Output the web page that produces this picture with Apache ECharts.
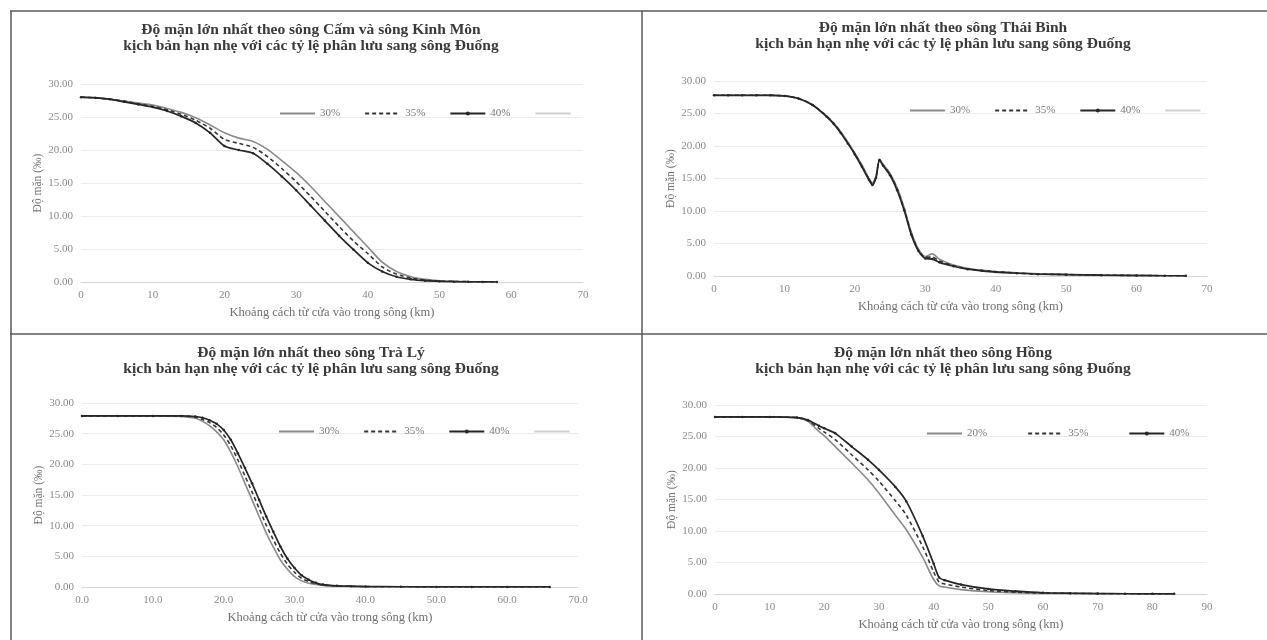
<!DOCTYPE html>
<html>
<head>
<meta charset="utf-8">
<script src="https://cdn.jsdelivr.net/npm/echarts@6/dist/echarts.min.js"></script>
<style>
html,body{margin:0;padding:0;background:#fff;}
#chart{width:1267px;height:640px;}
</style>
</head>
<body>
<div id="chart"></div>
<script>
// Maximum salinity (‰) along each river, light-drought scenario,
// for different shares of flow diverted to the Đuống river.

// --- Sông Cấm và sông Kinh Môn ---
const camDist = [0,2,4,6,8,10,12,14,16,18,20,22,24,26,28,30,32,34,36,38,40,42,44,46,48,50,52,54,56,58];
const cam30 = [28.0,27.9,27.7,27.4,27.1,26.8,26.3,25.7,24.9,23.8,22.6,21.8,21.3,20.1,18.4,16.6,14.5,12.2,9.9,7.6,5.3,3.0,1.6,0.8,0.4,0.2,0.1,0.05,0.02,0.0];
const cam35 = [28.0,27.9,27.7,27.4,27.0,26.6,26.1,25.4,24.5,23.3,21.6,21.0,20.4,19.0,17.2,15.2,13.0,10.7,8.4,6.2,4.3,2.3,1.2,0.6,0.3,0.15,0.1,0.05,0.02,0.0];
const cam40 = [28.0,27.9,27.7,27.3,26.9,26.5,25.9,25.1,24.1,22.6,20.6,20.0,19.5,17.9,16.0,13.9,11.6,9.3,7.0,4.9,2.9,1.6,0.8,0.4,0.2,0.1,0.05,0.02,0.01,0.0];

// --- Sông Thái Bình ---
const tbDist = [0,2,4,6,8,10,12,14,16,17,18,19,20,21,22,22.5,23,23.5,24,25,26,27,28,29,30,31,32,34,36,38,40,43,46,50,55,60,64,67];
const tb30 = [27.8,27.8,27.8,27.8,27.8,27.7,27.3,26.3,24.6,23.5,22.2,20.6,18.9,17.1,15.0,14.3,15.3,18.0,17.2,15.8,13.6,10.5,6.8,4.2,3.0,3.4,2.6,1.7,1.2,0.9,0.7,0.5,0.35,0.25,0.15,0.1,0.05,0.03];
const tb35 = [27.8,27.8,27.8,27.8,27.8,27.7,27.3,26.3,24.6,23.5,22.1,20.5,18.8,16.9,14.9,14.2,15.2,17.9,17.1,15.6,13.4,10.3,6.6,4.0,2.9,2.9,2.3,1.6,1.1,0.85,0.65,0.45,0.3,0.22,0.13,0.08,0.04,0.03];
const tb40 = [27.8,27.8,27.8,27.8,27.8,27.7,27.3,26.3,24.5,23.4,22.0,20.4,18.7,16.8,14.8,14.0,15.1,17.8,17.0,15.5,13.2,10.1,6.4,3.9,2.7,2.6,2.1,1.5,1.05,0.8,0.6,0.42,0.28,0.2,0.12,0.07,0.04,0.03];

// --- Sông Trà Lý ---
const tlDist = [0,5,10,14,16,17,18,19,20,21,22,23,24,25,26,27,28,29,30,31,32,33,34,36,38,40,45,50,55,60,66];
const tl30 = [27.9,27.9,27.9,27.8,27.5,27.0,26.3,25.3,24.0,22.0,19.6,16.9,14.2,11.5,8.8,6.5,4.4,2.9,1.7,1.0,0.6,0.4,0.25,0.15,0.1,0.05,0.03,0.02,0.02,0.02,0.02];
const tl35 = [27.9,27.9,27.9,27.9,27.7,27.3,26.8,26.0,24.8,23.0,20.7,18.1,15.5,12.8,10.1,7.7,5.5,3.7,2.4,1.4,0.9,0.55,0.3,0.17,0.11,0.06,0.035,0.02,0.02,0.02,0.02];
const tl40 = [27.9,27.9,27.9,27.9,27.8,27.6,27.2,26.6,25.6,24.0,21.8,19.4,16.9,14.2,11.5,9.0,6.6,4.6,3.1,1.9,1.2,0.7,0.4,0.2,0.12,0.07,0.04,0.02,0.02,0.02,0.02];

// --- Sông Hồng ---
const hongDist = [0,5,10,15,17,19,20,22,25,28,30,33,35,38,40,41,42,45,50,55,60,65,70,75,80,84];
const hong20 = [28.1,28.1,28.1,28.0,27.4,25.8,25.1,23.4,20.8,18.1,16.0,12.5,10.2,5.8,2.3,1.3,1.1,0.7,0.35,0.2,0.1,0.07,0.05,0.03,0.02,0.02];
const hong35 = [28.1,28.1,28.1,28.0,27.5,26.3,25.7,24.5,22.1,19.7,17.9,14.8,12.5,7.5,3.5,1.9,1.6,1.1,0.55,0.3,0.15,0.1,0.06,0.035,0.02,0.02];
const hong40 = [28.1,28.1,28.1,28.0,27.6,26.7,26.3,25.5,23.4,21.3,19.7,17.0,14.7,9.2,4.8,2.6,2.2,1.5,0.8,0.45,0.2,0.12,0.07,0.04,0.02,0.02];

// Text
const subTitle = 'kịch bản hạn nhẹ với các tỷ lệ phân lưu sang sông Đuống';
const titles = [
  'Độ mặn lớn nhất theo sông Cấm và sông Kinh Môn',
  'Độ mặn lớn nhất theo sông Thái Bình',
  'Độ mặn lớn nhất theo sông Trà Lý',
  'Độ mặn lớn nhất theo sông Hồng'
];
const xName = 'Khoảng cách từ cửa vào trong sông (km)';
const yName = 'Độ mặn (‰)';
const BLANK = ' ';

const SERIF = '"Liberation Serif","DejaVu Serif",serif';

// Line styles per scenario
const styles = {
  '30%': {color: '#8a8a8a', width: 1.6, type: 'solid', symbol: 'none'},
  '20%': {color: '#8a8a8a', width: 1.6, type: 'solid', symbol: 'none'},
  '35%': {color: '#363636', width: 1.6, type: [4, 3], symbol: 'none'},
  '40%': {color: '#262626', width: 1.7, type: 'solid', symbol: 'circle'},
  ' ':   {color: '#d0d0d0', width: 1.2, type: 'solid', symbol: 'none'}
};

const panels = [
  {dist: camDist, lines: [['30%', cam30], ['35%', cam35], ['40%', cam40], [BLANK, []]],
   grid: {left: 81, top: 84, width: 502, height: 198}, xMax: 70, xDec: 0,
   legend: {left: 274, top: 103, gap: 24}, title: {x: 311, y: 22}},
  {dist: tbDist, lines: [['30%', tb30], ['35%', tb35], ['40%', tb40], [BLANK, []]],
   grid: {left: 714, top: 81, width: 493, height: 195}, xMax: 70, xDec: 0,
   legend: {left: 904, top: 100, gap: 24}, title: {x: 943, y: 20}},
  {dist: tlDist, lines: [['30%', tl30], ['35%', tl35], ['40%', tl40], [BLANK, []]],
   grid: {left: 82, top: 403, width: 496, height: 184}, xMax: 70, xDec: 1,
   legend: {left: 273, top: 421, gap: 24}, title: {x: 311, y: 345}},
  {dist: hongDist, lines: [['20%', hong20], ['35%', hong35], ['40%', hong40]],
   grid: {left: 715, top: 405, width: 492, height: 189}, xMax: 90, xDec: 0,
   legend: {left: 921, top: 423, gap: 40}, title: {x: 943, y: 345}}
];

const option = {
  animation: false,
  backgroundColor: '#fff',
  grid: [], xAxis: [], yAxis: [], series: [], legend: [], graphic: []
};

panels.forEach((p, i) => {
  option.grid.push(Object.assign({containLabel: false}, p.grid));
  option.xAxis.push({
    type: 'value', gridIndex: i, min: 0, max: p.xMax, interval: 10,
    name: xName, nameLocation: 'middle', nameGap: 24,
    nameTextStyle: {fontFamily: SERIF, fontSize: 12.5, color: '#6f6f6f'},
    axisLine: {show: true, lineStyle: {color: '#d4d4d4'}},
    axisTick: {show: false},
    axisLabel: {fontFamily: SERIF, fontSize: 11, color: '#8a8a8a', margin: 8,
      formatter: v => v.toFixed(p.xDec)},
    splitLine: {show: false}
  });
  option.yAxis.push({
    type: 'value', gridIndex: i, min: 0, max: 30, interval: 5,
    name: yName, nameLocation: 'middle', nameGap: 37, nameRotate: 90,
    nameTextStyle: {fontFamily: SERIF, fontSize: 11.5, color: '#6f6f6f'},
    axisLine: {show: false}, axisTick: {show: false},
    axisLabel: {fontFamily: SERIF, fontSize: 11, color: '#8a8a8a', margin: 8,
      formatter: v => v.toFixed(2)},
    splitLine: {show: true, lineStyle: {color: '#ececec', width: 1}}
  });
  p.lines.forEach(([name, vals]) => {
    const s = styles[name];
    option.series.push({
      type: 'line', name: name, xAxisIndex: i, yAxisIndex: i,
      data: vals.map((v, k) => [p.dist[k], v]),
      smooth: 0.25,
      symbol: s.symbol, symbolSize: 2.5, showSymbol: s.symbol !== 'none',
      itemStyle: {color: s.color},
      lineStyle: {color: s.color, width: s.width, type: s.type},
      emphasis: {disabled: true}
    });
  });
  // Legend keys: plain line, with a small dot only for the marked series
  option.legend.push({
    data: p.lines.map(l => ({
      name: l[0],
      itemStyle: {opacity: styles[l[0]].symbol === 'none' ? 0 : 1}
    })),
    left: p.legend.left, top: p.legend.top,
    itemWidth: 35, itemHeight: 5, itemGap: p.legend.gap,
    selectedMode: false,
    textStyle: {fontFamily: SERIF, fontSize: 11, color: '#7a7a7a'}
  });
  option.graphic.push({
    type: 'text', x: p.title.x, y: p.title.y, silent: true,
    style: {
      text: titles[i] + '\n' + subTitle,
      align: 'center', verticalAlign: 'top',
      font: 'bold 15.5px ' + SERIF, lineHeight: 16, fill: '#3a3a3a'
    }
  });
});

// Table frame around the four panels
const frame = [
  [10, 11, 1267, 11], [11, 11, 11, 640], [642, 11, 642, 640], [10, 334, 1267, 334]
];
frame.forEach(([x1, y1, x2, y2]) => {
  option.graphic.push({
    type: 'line', silent: true,
    shape: {x1, y1, x2, y2},
    style: {stroke: '#5a5a5a', lineWidth: 1.5}
  });
});

const chart = echarts.init(document.getElementById('chart'), null, {renderer: 'canvas'});
chart.setOption(option);
</script>
</body>
</html>
